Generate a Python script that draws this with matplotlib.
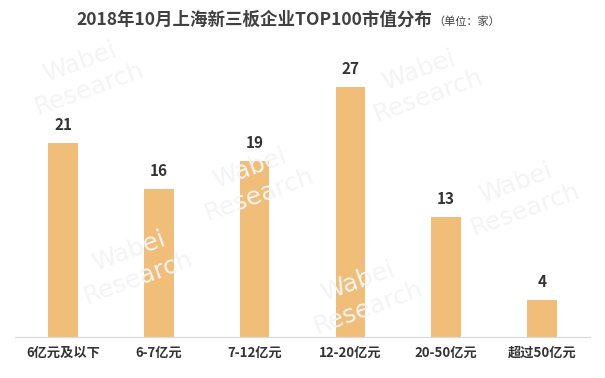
import matplotlib.pyplot as plt
import numpy as np

plt.rcParams['font.family'] = ['Noto Sans CJK SC', 'DejaVu Sans']

# data
categories = ['6亿元及以下', '6-7亿元', '7-12亿元', '12-20亿元', '20-50亿元', '超过50亿元']
counts = [21, 16, 19, 27, 13, 4]

fig = plt.figure(figsize=(6.05, 3.78), dpi=100)
ax = fig.add_axes([0.025, 0.108, 0.95, 0.735])

# faint watermark
for wx, wy in [(0.14, 0.80), (0.42, 0.52), (0.70, 0.78), (0.86, 0.48), (0.22, 0.30), (0.60, 0.22)]:
    fig.text(wx, wy, 'Wabei\nResearch', color='#f4f4f4', fontsize=18, rotation=20,
             ha='center', va='center', family='DejaVu Sans', zorder=0)

x = np.arange(len(categories))
bars = ax.bar(x, counts, width=0.31, color='#F0BE78', zorder=2)
for xi, v in zip(x, counts):
    ax.text(xi, v + 1.1, str(v), ha='center', va='bottom', fontsize=11,
            fontweight='bold', color='#333333', zorder=3)

ax.set_xlim(-0.5, len(categories) - 0.5)
ax.set_ylim(0, 30)
ax.set_xticks(x)
ax.set_xticklabels(categories, fontsize=9.5, fontweight='bold', color='#333333')
ax.tick_params(axis='x', length=0, pad=6)
ax.set_yticks([])
for s in ['top', 'right', 'left']:
    ax.spines[s].set_visible(False)
ax.spines['bottom'].set_color('#d9d9d9')
ax.patch.set_alpha(0)

fig.text(0.127, 0.948, '2018年10月上海新三板企业TOP100市值分布', fontsize=12.6,
         fontweight='bold', color='#404040', va='center')
fig.text(0.716, 0.943, '（单位：家）', fontsize=8, color='#404040', va='center')

fig.savefig('out.png', dpi=100)
